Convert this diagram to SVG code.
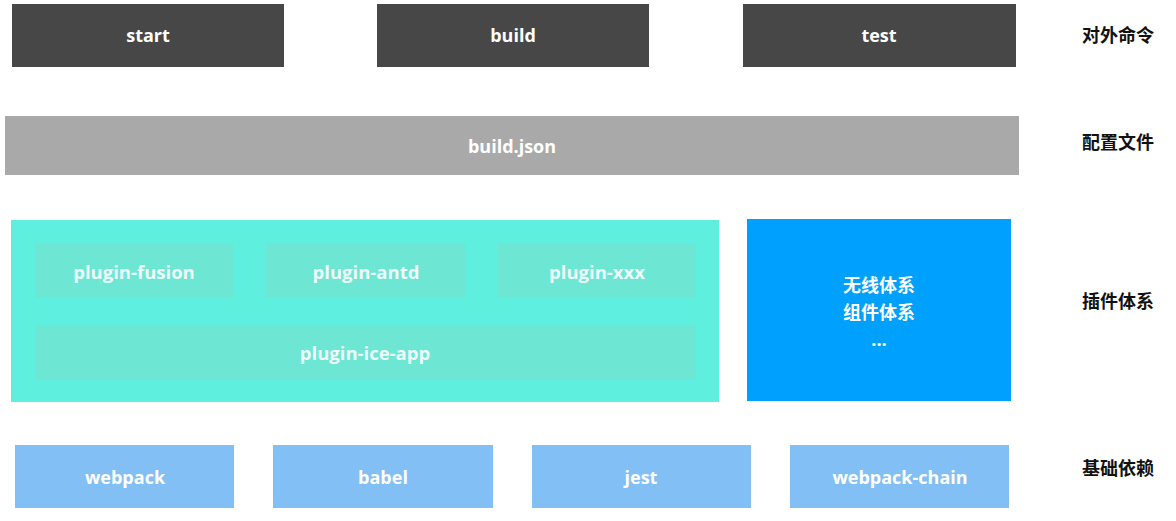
<svg xmlns="http://www.w3.org/2000/svg" width="1176" height="521" viewBox="0 0 1176 521">
<style>
.t{font-family:"Open Sans","Noto Sans CJK SC",sans-serif;font-weight:700;font-size:18px;fill:#ffffff;text-anchor:middle;dominant-baseline:central}
.cn{font-family:"Noto Sans CJK SC",sans-serif}
.cmd{fill:#474747}
.cfg{fill:#a9a9a9}
.plug{fill:#6de6d4}
.dep{fill:#82bff4}
.lab{font-family:"Noto Sans CJK SC",sans-serif;font-weight:700;font-size:18px;fill:#111111;dominant-baseline:central}
.pt{fill:#eefcf9;font-size:18.5px}
</style>
<rect width="1176" height="521" fill="#ffffff"/>
<g id="start"><rect class="cmd" x="12" y="4" width="272" height="63"/><text class="t" x="148" y="35">start</text></g>
<g id="build"><rect class="cmd" x="377" y="4" width="272" height="63"/><text class="t" x="513" y="35">build</text></g>
<g id="test"><rect class="cmd" x="743" y="4" width="273" height="63"/><text class="t" x="879" y="35">test</text></g>
<g id="buildjson"><rect class="cfg" x="5" y="116" width="1014" height="59"/><text class="t" x="512" y="146">build.json</text></g>
<g id="plugins">
<rect x="11" y="220" width="708" height="182" fill="#5eefdf"/>
<g id="plugin-fusion"><rect class="plug" x="35" y="243" width="198" height="55"/><text class="t pt" x="134" y="271">plugin-fusion</text></g>
<g id="plugin-antd"><rect class="plug" x="266" y="243" width="200" height="55"/><text class="t pt" x="366" y="271">plugin-antd</text></g>
<g id="plugin-xxx"><rect class="plug" x="498" y="243" width="198" height="55"/><text class="t pt" x="597" y="271">plugin-xxx</text></g>
<g id="plugin-ice-app"><rect class="plug" x="35" y="325" width="661" height="55"/><text class="t pt" x="365" y="352">plugin-ice-app</text></g>
</g>
<g id="other"><rect x="747" y="219" width="264" height="182" fill="#00a1fe"/>
<text class="t cn" x="879" y="284">无线体系</text>
<text class="t cn" x="879" y="311">组件体系</text>
<text class="t" x="879" y="339">...</text></g>
<g id="webpack"><rect class="dep" x="15" y="445" width="219" height="63"/><text class="t" x="125" y="477">webpack</text></g>
<g id="babel"><rect class="dep" x="273" y="445" width="220" height="63"/><text class="t" x="383" y="477">babel</text></g>
<g id="jest"><rect class="dep" x="532" y="445" width="219" height="63"/><text class="t" x="641" y="477">jest</text></g>
<g id="webpack-chain"><rect class="dep" x="790" y="445" width="219" height="63"/><text class="t" x="900" y="477">webpack-chain</text></g>
<g id="labels">
<text class="lab" x="1082" y="34">对外命令</text>
<text class="lab" x="1082" y="141">配置文件</text>
<text class="lab" x="1082" y="300">插件体系</text>
<text class="lab" x="1082" y="467">基础依赖</text>
</g>
<g id="connectors"></g>
</svg>
